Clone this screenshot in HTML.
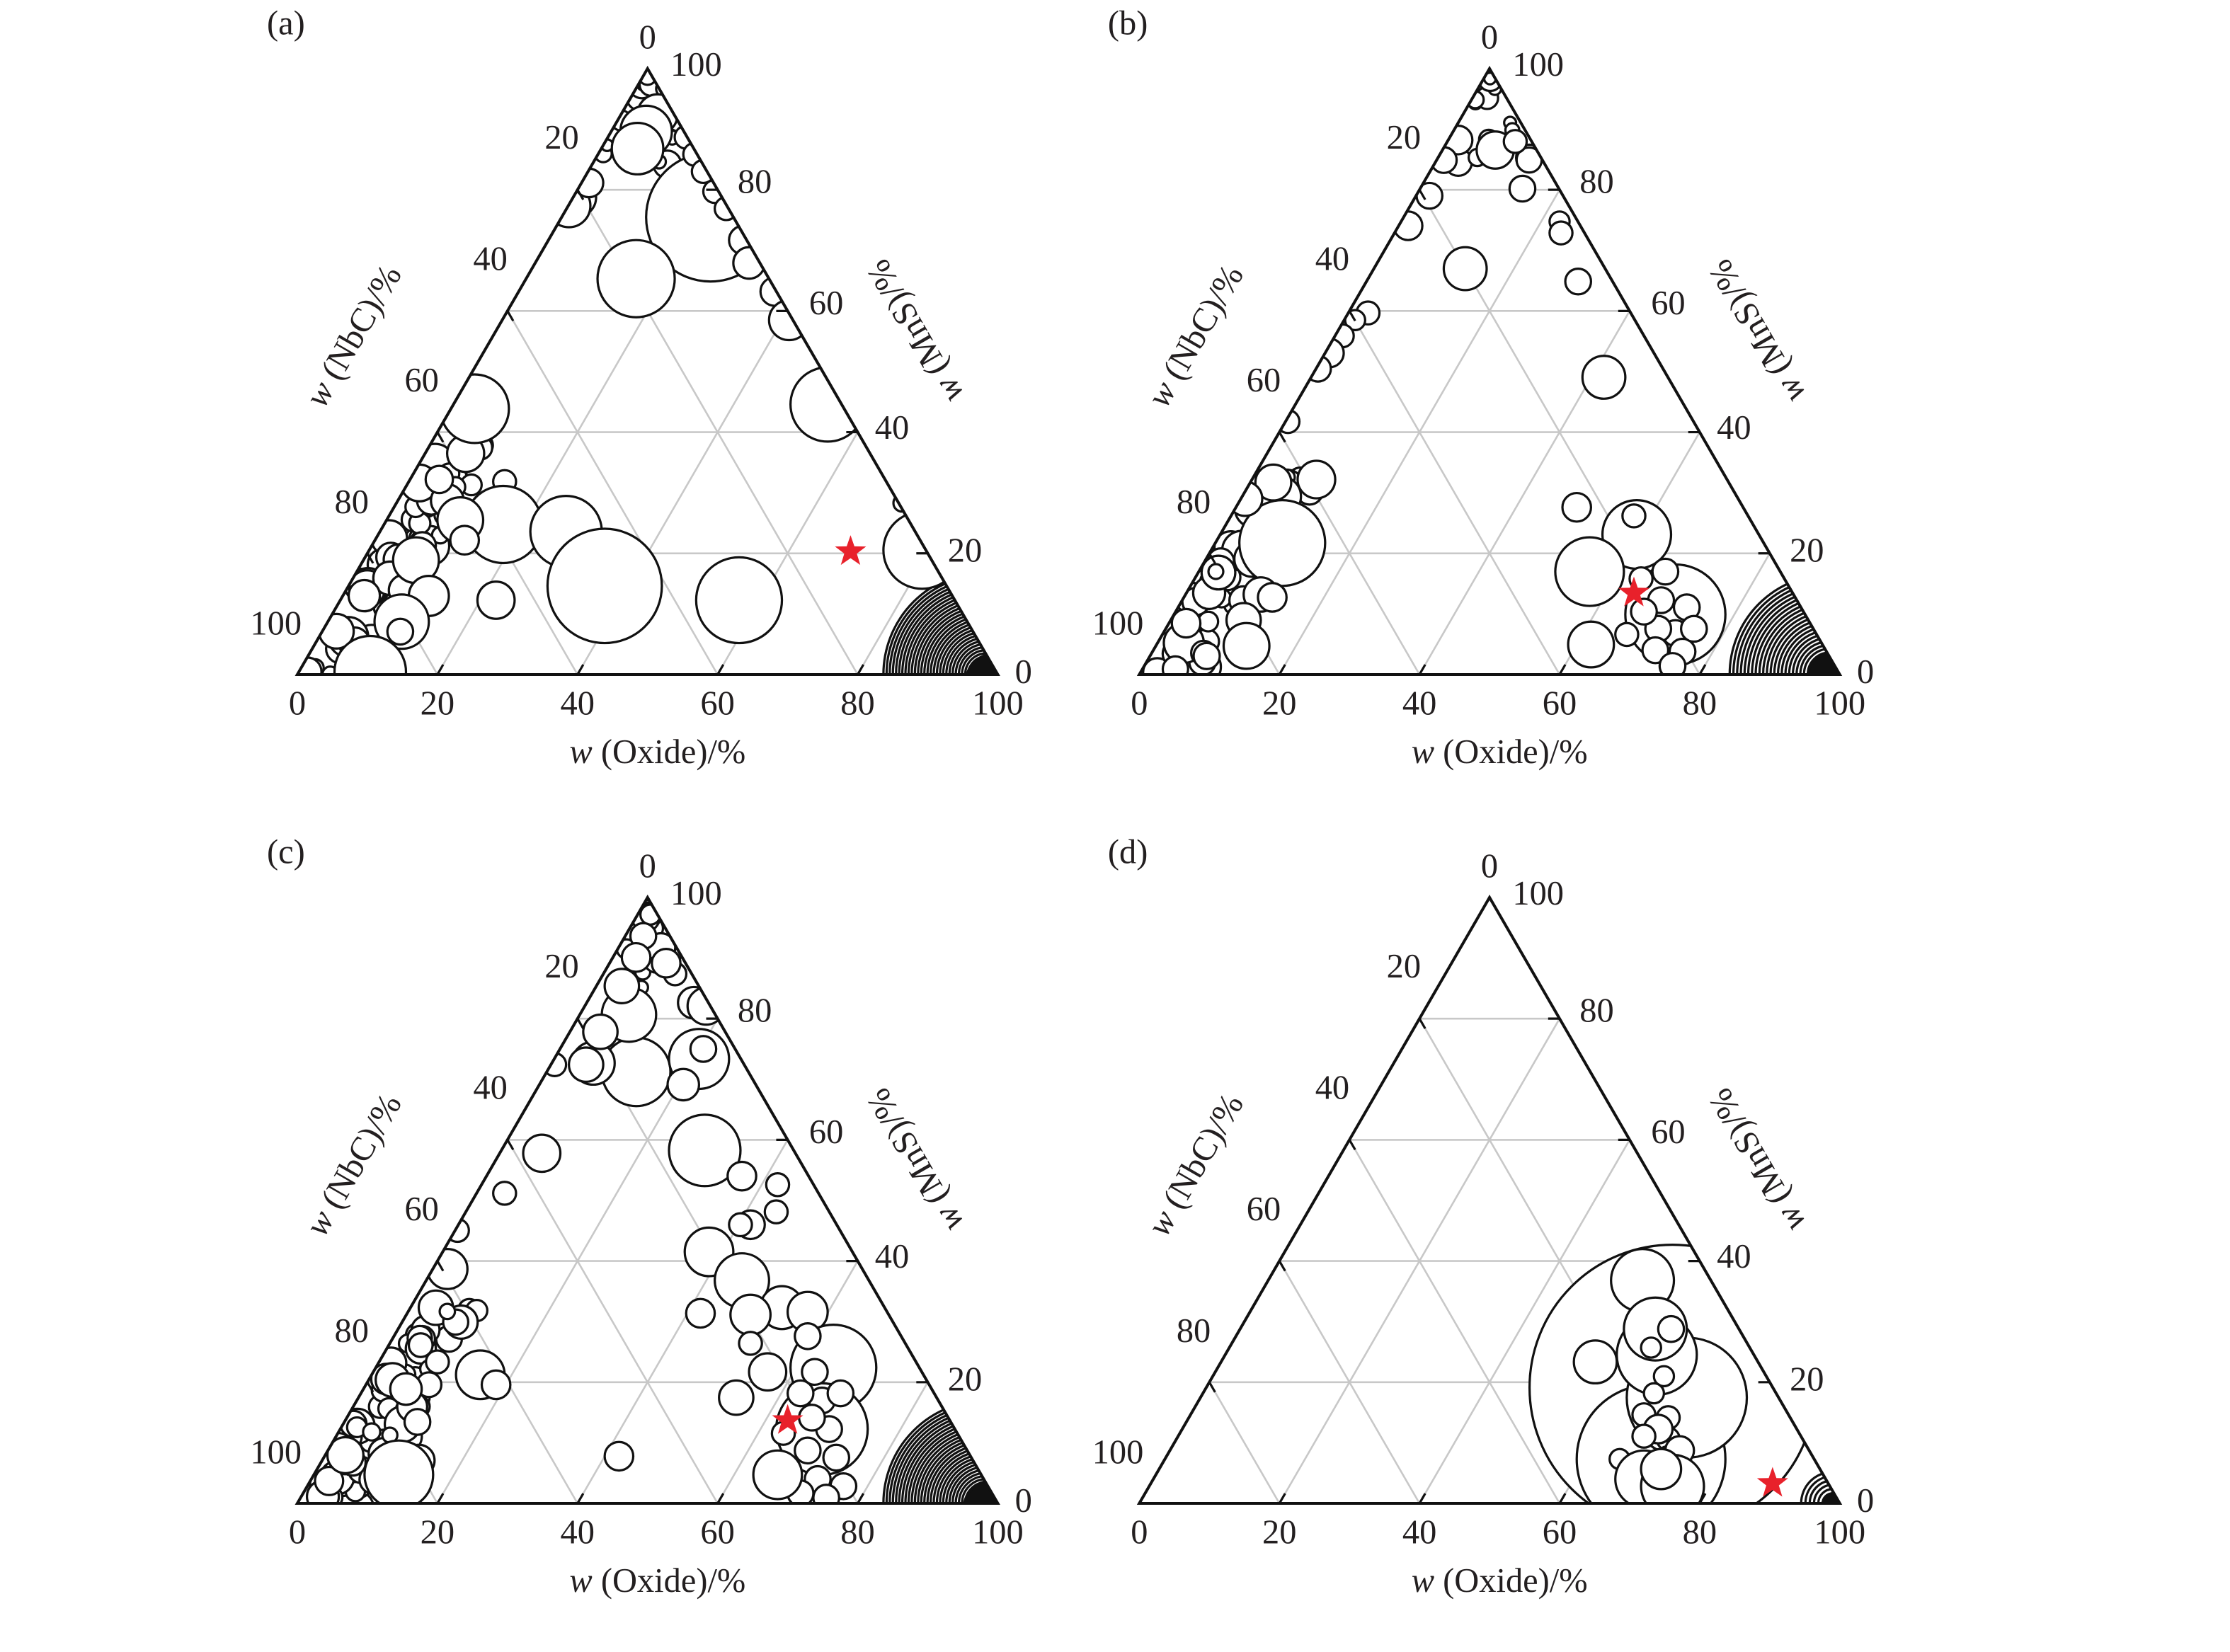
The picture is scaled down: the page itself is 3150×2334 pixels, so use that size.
<!DOCTYPE html>
<html><head><meta charset="utf-8"><style>
html,body{margin:0;padding:0;background:#fff;}
svg{display:block;}
text{font-family:"Liberation Serif",serif;fill:#231f20;}
</style></head><body>
<svg id="s" width="3150" height="2334" viewBox="0 0 1560 1156" preserveAspectRatio="none" xmlns="http://www.w3.org/2000/svg">
<rect width="1560" height="1156" fill="#fff"/>
<g id="g"></g>
</svg>
<script>
var NS="http://www.w3.org/2000/svg",G=document.getElementById('g');
function el(t,a,p){var e=document.createElementNS(NS,t);for(var k in a)e.setAttribute(k,a[k]);(p||G).appendChild(e);return e;}
function txt(x,y,s,a){a=a||{};a.x=x;a.y=y;a['font-size']=a['font-size']||24;a['text-anchor']=a['text-anchor']||'middle';var e=el('text',a);e.textContent=s;return e;}
var seed=7;function rnd(){seed=(seed*16807)%2147483647;return seed/2147483647;}
var W=490,H=424;
function panel(id,x0,yb,lab,circles,opts){
  var L=[x0,yb],R=[x0+W,yb],A=[x0+W/2,yb-H];
  var cp=el('clipPath',{id:'c'+id});
  el('polygon',{points:L+' '+R+' '+A},cp);
  function lerp(p,q,f){return [p[0]+(q[0]-p[0])*f,p[1]+(q[1]-p[1])*f];}
  var gl=el('g',{stroke:'#c8c8c8','stroke-width':1.3});
  var ticks=[];
  for(var i=1;i<5;i++){var f=i/5;
    var a=lerp(L,A,f),b=lerp(R,A,f);el('line',{x1:a[0],y1:a[1],x2:b[0],y2:b[1]},gl);ticks.push([b,a]);
    var c=lerp(L,R,f),d=lerp(R,A,1-f);el('line',{x1:c[0],y1:c[1],x2:d[0],y2:d[1]},gl);ticks.push([c,d]);
    var e=lerp(L,R,f),h=lerp(L,A,f);el('line',{x1:e[0],y1:e[1],x2:h[0],y2:h[1]},gl);ticks.push([h,e]);
  }
  var cg=el('g',{'clip-path':'url(#c'+id+')',stroke:'#111','stroke-width':1.6,fill:'#fff'});
  if(opts.black){var bk=opts.black;
    for(var r=bk.r;r>=4;r-=bk.step){el('circle',{cx:bk.x,cy:bk.y,r:r},cg);}
    el('circle',{cx:bk.x+4,cy:bk.y+4,r:bk.core,fill:'#111'},cg);
  }
  if(opts.left){for(var k=0;k<opts.left.n;k++){var t=rnd()*opts.left.t;var p=lerp(L,A,t);var off=rnd()*opts.left.w;
      el('circle',{cx:p[0]+off+6,cy:p[1]-2+rnd()*6,r:5+rnd()*opts.left.rr},cg);}}
  if(opts.apex){for(var k=0;k<opts.apex.n;k++){var t=rnd()*opts.apex.t;var p=lerp(A,L,t);var q=lerp(A,R,t);var u=rnd();
      el('circle',{cx:p[0]+(q[0]-p[0])*u,cy:p[1]+4,r:4+rnd()*opts.apex.rr},cg);}}
  circles.forEach(function(c){el('circle',{cx:c[0],cy:c[1],r:c[2]},cg);});
  var tg=el('g',{stroke:'#111','stroke-width':1.6});
  ticks.forEach(function(t){var p=t[0],q=t[1],dx=q[0]-p[0],dy=q[1]-p[1],l=Math.hypot(dx,dy);el('line',{x1:p[0],y1:p[1],x2:p[0]+dx/l*8,y2:p[1]+dy/l*8},tg);});
  el('polygon',{points:L+' '+R+' '+A,fill:'none',stroke:'#111','stroke-width':2},null);
  if(opts.star){var s=opts.star,pts=[];for(var j=0;j<10;j++){var rr=j%2?4.6:11.5,ang=-Math.PI/2+j*Math.PI/5;pts.push((s[0]+rr*Math.cos(ang)).toFixed(1)+','+(s[1]+rr*Math.sin(ang)).toFixed(1));}
    el('polygon',{points:pts.join(' '),fill:'#e8212b'});}
  var l1=[['20',185,-376],['40',135,-291],['60',87,-206],['80',38,-121],['100',-15,-36]];
  l1.forEach(function(v){txt(x0+v[1],yb+v[2]+8,v[0]);});
  txt(x0+245,yb-446+8,'0');
  var r1=[['100',279,-427],['80',320,-345],['60',370,-260],['40',416,-173],['20',467,-87],['0',508,-2]];
  r1.forEach(function(v){txt(x0+v[1],yb+v[2]+8,v[0]);});
  for(var i=0;i<=5;i++)txt(x0+98*i,yb+28,String(20*i));
  var t1=txt(x0+252,yb+62,'',{});t1.innerHTML='<tspan font-style="italic">w</tspan> (Oxide)/%';
  var t2=txt(0,0,'',{transform:'translate('+(x0+39)+','+(yb-237)+') rotate(-60)'});t2.innerHTML='<tspan font-style="italic">w</tspan> (NbC)/%';
  t2.setAttribute('y',8);
  var t3=txt(0,8,'',{transform:'translate('+(x0+432)+','+(yb-240)+') rotate(-120)'});t3.innerHTML='<tspan font-style="italic">w</tspan> (MnS)/%';
  txt(x0-8,yb-448,lab);
}
seed=11;
panel('a',208,472,'(a)',[
 [497,152,45],[403,138,14],[398,144,15],[412,128,10],[445,195,27],[520,168,10],[524,184,11],[542,204,10],[552,224,14],[579,283,26],
 [332,286,24],[353,337,8],[352,367,27],[322,364,16],[325,378,10],[396,372,25],[423,410,40],[517,420,30],[347,420,13],
 [291,392,16],[300,417,14],[281,435,19],[280,442,9],[259,470,25],[631,352,6],[645,385,27],
 [465,62,6],[470,72,7],[475,84,8],[480,96,8],[486,108,8],[492,120,8],[500,134,8],[508,146,8],[460,80,14],[452,92,18],[446,104,18]
],{black:{x:690,y:472,r:72,step:2.2,core:18},star:[595,386],left:{n:60,t:0.38,w:38,rr:9},apex:{n:16,t:0.15,rr:6}});
seed=23;
panel('b',797,472,'(b)',[
 [1046,105,13],[1060,99,8],[1065,132,9],[1091,155,7],[1092,163,8],[1025,188,15],[1104,197,9],[1122,264,15],[1103,355,10],
 [1000,137,9],[985,158,10],[957,219,8],[948,224,7],[939,235,8],[930,247,10],[922,258,9],[901,295,8],[1020,98,10],[1010,112,9],
 [897,380,30],[882,416,12],[890,418,10],[870,434,12],[872,452,16],[871,349,12],
 [1172,430,35],[1145,374,24],[1143,361,8],[1112,400,24],[1113,451,16],[1138,444,8],[1165,400,9],[1162,420,9],[1172,443,9],[1177,456,9],[1160,440,9],[1150,428,9],[1180,425,9],[1158,455,9],[1185,440,9],[1170,466,9],[1148,405,8]
],{black:{x:1280,y:472,r:70,step:2.6,core:20},star:[1143,415],left:{n:65,t:0.33,w:40,rr:9},apex:{n:14,t:0.15,rr:6}});
seed=37;
panel('c',208,1052,'(c)',[
 [445,750,24],[415,744,15],[489,741,21],[492,734,9],[478,759,11],[466,674,10],[440,710,19],[494,704,13],[455,640,7],[450,655,9],[445,670,10],[435,690,12],[420,722,12],[410,745,12],[388,745,8],
 [379,807,13],[353,835,8],[493,805,25],[519,823,10],[544,829,8],[543,848,8],[525,857,10],[518,857,8],[496,876,17],[519,896,19],[547,915,15],[565,918,14],[490,919,10],[525,920,14],[525,940,8],[537,960,13],[515,978,12],
 [583,957,30],[575,1000,32],[565,935,9],[570,960,9],[575,980,9],[560,975,9],[580,1000,9],[565,1015,9],[585,1020,9],[572,1035,9],[590,1040,9],[560,1045,9],[578,1048,9],[568,992,9],[588,975,9],
 [544,1032,17],[548,1003,8],[433,1019,10],[336,962,17],[347,969,10],[306,953,8],[284,972,11],[292,995,9],[293,1022,11],[279,1032,24],[260,1002,6],[313,888,14],[320,861,8]
],{black:{x:690,y:1052,r:72,step:2.2,core:20},star:[551,994],left:{n:65,t:0.33,w:40,rr:8},apex:{n:16,t:0.18,rr:7}});
seed=51;
panel('d',797,1052,'(d)',[
 [1170,971,100],[1155,1021,52],[1180,978,42],[1159,948,28],[1149,896,22],[1158,930,22],[1169,930,9],[1155,943,7],[1116,953,15],
 [1164,963,7],[1157,975,7],[1150,990,8],[1167,992,8],[1167,1007,8],[1167,1020,8],[1173,1033,9],[1133,1021,7],[1160,1000,10],[1175,1015,10],[1160,1040,9],[1178,1045,9],[1150,1005,8],
 [1150,1035,20],[1170,1040,22],[1162,1028,14]
],{black:{x:1282,y:1052,r:22,step:3,core:12},star:[1240,1038]});
</script>
</body></html>
